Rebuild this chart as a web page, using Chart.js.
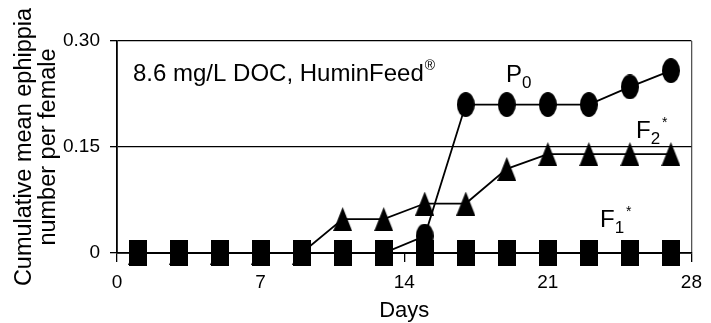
<!DOCTYPE html>
<html>
<head>
<meta charset="utf-8">
<script src="https://cdn.jsdelivr.net/npm/chart.js@4"></script>
<style>
  html, body { margin: 0; padding: 0; background: #fff; }
  #wrap { width: 711px; height: 323px; position: relative; }
</style>
</head>
<body>
<div id="wrap"><canvas id="ephippiaChart"></canvas></div>
<script>
// sampling days (odd days over the 4-week run)
const days = [1, 3, 5, 7, 9, 11, 13, 15, 17, 19, 21, 23, 25, 27];

// cumulative mean ephippia per female
const p0Values = [0, 0, 0, 0, 0, 0, 0, 0.024, 0.21, 0.21, 0.21, 0.21, 0.235, 0.258];
const f2Values = [0, 0, 0, 0, 0, 0.048, 0.048, 0.07, 0.07, 0.119, 0.14, 0.14, 0.14, 0.14];
const f1Values = [0, 0, 0, 0, 0, 0, 0, 0, 0, 0, 0, 0, 0, 0];

const yTickLabels = ["0", "0.15", "0.30"];
const xTickValues = [0, 7, 14, 21, 28];

const FONT = "'Liberation Sans', Arial, sans-serif";

// solid black marker shapes, a little taller than wide
function makeMarker(shape, w, h) {
  const c = document.createElement("canvas");
  c.width = w;
  c.height = h;
  const g = c.getContext("2d");
  g.fillStyle = "#000";
  g.beginPath();
  if (shape === "ellipse") {
    g.ellipse(w / 2, h / 2, w / 2, h / 2, 0, 0, Math.PI * 2);
  } else if (shape === "triangle") {
    g.moveTo(w / 2, 0);
    g.lineTo(w, h);
    g.lineTo(0, h);
    g.closePath();
  } else {
    g.rect(0, 0, w, h);
  }
  g.fill();
  return c;
}

const circleMark = makeMarker("ellipse", 18, 25);
const triangleMark = makeMarker("triangle", 19, 24);
const squareMark = makeMarker("rect", 18, 26);

function toPoints(values) {
  return days.map((d, i) => ({ x: d, y: values[i] }));
}

function series(label, values, marker) {
  return {
    label: label,
    data: toPoints(values),
    showLine: true,
    clip: false,
    borderColor: "#000",
    borderWidth: 1.8,
    pointStyle: marker,
    pointRadius: 10,
    pointHoverRadius: 10,
    fill: false
  };
}

// text labels: condition note and generation names with sub/superscripts
const labelPlugin = {
  id: "seriesLabels",
  afterDatasetsDraw(chart) {
    const ctx = chart.ctx;
    ctx.save();
    ctx.fillStyle = "#000";
    ctx.textBaseline = "alphabetic";
    ctx.textAlign = "left";

    ctx.font = "24px " + FONT;
    const note = "8.6 mg/L DOC, HuminFeed";
    ctx.fillText(note, 133, 81);
    const nw = ctx.measureText(note).width;
    ctx.font = "14px " + FONT;
    ctx.fillText("\u00AE", 133 + nw + 1, 70);

    function genLabel(main, sub, star, x, y) {
      ctx.font = "24px " + FONT;
      ctx.fillText(main, x, y);
      const mw = ctx.measureText(main).width;
      ctx.font = "17px " + FONT;
      ctx.fillText(sub, x + mw, y + 6);
      const sw = ctx.measureText(sub).width;
      if (star) {
        ctx.font = "14px " + FONT;
        ctx.fillText("*", x + mw + sw + 2, y - 11);
      }
    }

    genLabel("P", "0", false, 506, 82);
    genLabel("F", "2", true, 636, 138);
    genLabel("F", "1", true, 600, 227);
    ctx.restore();
  }
};

new Chart(document.getElementById("ephippiaChart"), {
  type: "scatter",
  data: {
    datasets: [
      series("P0", p0Values, circleMark),
      series("F2*", f2Values, triangleMark),
      series("F1*", f1Values, squareMark)
    ]
  },
  options: {
    responsive: true,
    maintainAspectRatio: false,
    animation: false,
    layout: {
      padding: { top: 41, right: 13, bottom: 0, left: 0 }
    },
    plugins: {
      legend: { display: false },
      tooltip: { enabled: false }
    },
    scales: {
      x: {
        type: "linear",
        min: 0,
        max: 28,
        afterBuildTicks(scale) {
          scale.ticks = xTickValues.map(v => ({ value: v }));
        },
        afterFit(scale) {
          scale.height = 70;
        },
        ticks: {
          color: "#000",
          font: { family: FONT, size: 19 },
          padding: 9,
          maxRotation: 0
        },
        grid: {
          drawOnChartArea: true,
          color: ctx => (ctx.tick && ctx.tick.value === 28 ? "#555" : "rgba(0,0,0,0)"),
          tickColor: "#000",
          tickLength: 9,
          lineWidth: 1.3
        },
        border: { color: "#000", width: 1.8 },
        title: {
          display: true,
          text: "Days",
          color: "#000",
          font: { family: FONT, size: 22, lineHeight: 1.1 },
          padding: { top: 0, bottom: 0 }
        }
      },
      y: {
        min: 0,
        max: 0.3,
        afterBuildTicks(scale) {
          scale.ticks = [0, 0.15, 0.3].map(v => ({ value: v }));
        },
        afterFit(scale) {
          scale.width = 117;
        },
        ticks: {
          color: "#000",
          font: { family: FONT, size: 19 },
          padding: 10,
          callback: (v, i) => yTickLabels[i]
        },
        grid: {
          color: "#000",
          tickColor: "#000",
          tickLength: 7,
          lineWidth: 1.3
        },
        border: { color: "#000", width: 1.8 },
        title: {
          display: true,
          text: ["Cumulative mean ephippia", "number per female"],
          color: "#000",
          font: { family: FONT, size: 23.5, lineHeight: 1 },
          padding: { top: 13, bottom: 0 }
        }
      }
    }
  },
  plugins: [labelPlugin]
});
</script>
</body>
</html>
